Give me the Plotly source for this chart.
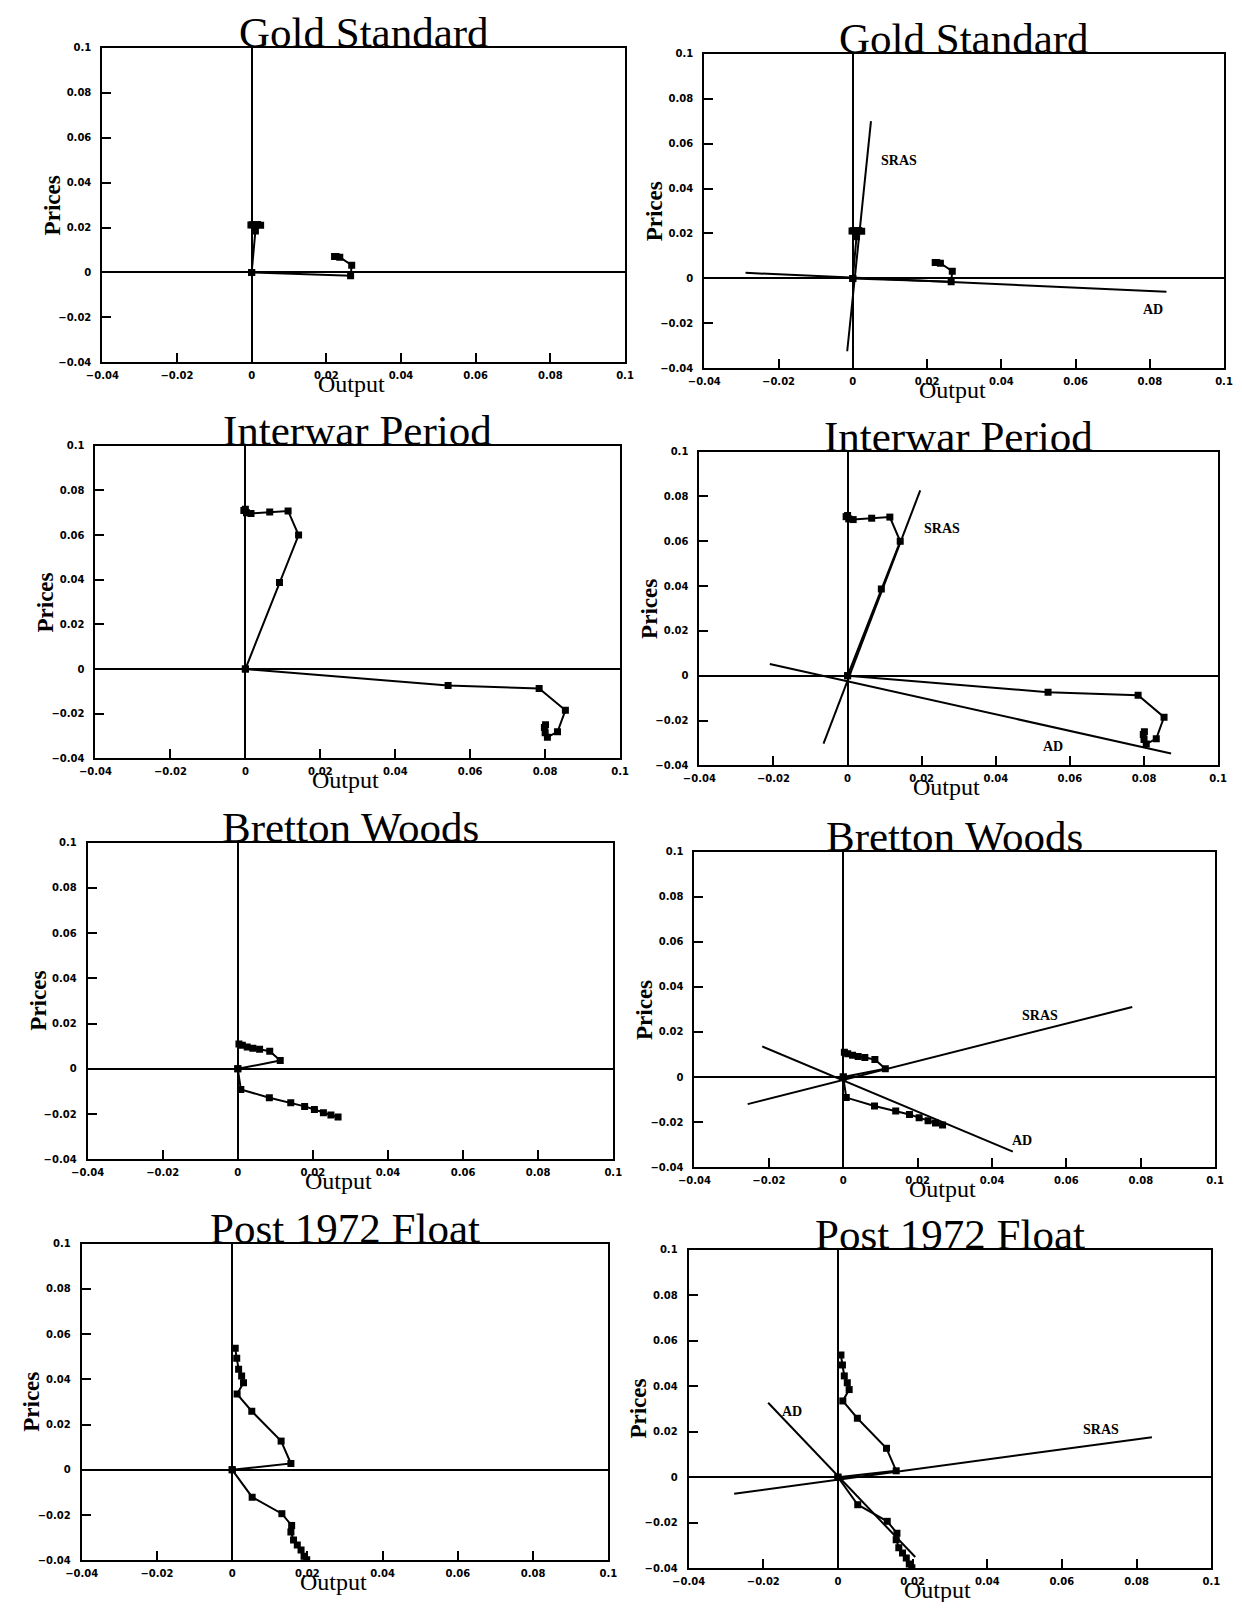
import plotly.graph_objects as go

# ---------------- data ----------------
tick_vals = [-0.04, -0.02, 0, 0.02, 0.04, 0.06, 0.08, 0.1]
tick_text = ["\u22120.04", "\u22120.02", "0", "0.02", "0.04", "0.06", "0.08", "0.1"]

panel_titles = ["Gold Standard", "Gold Standard",
                "Interwar Period", "Interwar Period",
                "Bretton Woods", "Bretton Woods",
                "Post 1972 Float", "Post 1972 Float"]

# Gold Standard
gold_demand_x = [0, 0.0010, 0.0024, 0.0016, 0.0008, 0.0002, -0.0002]
gold_demand_y = [0, 0.0185, 0.0210, 0.0213, 0.0213, 0.0212, 0.0211]
gold_supply_x = [0, 0.0265, 0.0268, 0.0236, 0.0226, 0.0222]
gold_supply_y = [0, -0.0015, 0.0032, 0.0068, 0.0071, 0.0071]
gold_sras_x = [-0.0015, 0.0049]
gold_sras_y = [-0.0324, 0.0700]
gold_ad_x = [-0.0289, 0.0845]
gold_ad_y = [0.0025, -0.0059]

# Interwar Period
interwar_demand_x = [0, 0.0091, 0.0142, 0.0114, 0.0065, 0.0015, 0.0003, -0.0004, 0.0]
interwar_demand_y = [0, 0.0387, 0.0600, 0.0708, 0.0703, 0.0697, 0.0700, 0.0710, 0.0715]
interwar_supply_x = [0, 0.0541, 0.0784, 0.0854, 0.0833, 0.0806, 0.0800, 0.0798, 0.0801]
interwar_supply_y = [0, -0.0074, -0.0087, -0.0185, -0.0281, -0.0305, -0.0285, -0.0262, -0.0250]
interwar_sras_x = [-0.0065, 0.0196]
interwar_sras_y = [-0.0303, 0.0827]
interwar_ad_x = [-0.0210, 0.0873]
interwar_ad_y = [0.0052, -0.0347]

# Bretton Woods
bretton_demand_x = [0, 0.0113, 0.0085, 0.0058, 0.0040, 0.0025, 0.0012, 0.0003]
bretton_demand_y = [0, 0.0037, 0.0078, 0.0087, 0.0091, 0.0097, 0.0104, 0.0110]
bretton_supply_x = [0, 0.0008, 0.0084, 0.0141, 0.0178, 0.0204, 0.0228, 0.0248, 0.0267]
bretton_supply_y = [0, -0.0091, -0.0128, -0.0150, -0.0166, -0.0180, -0.0194, -0.0204, -0.0213]
bretton_sras_x = [-0.0257, 0.0777]
bretton_sras_y = [-0.0120, 0.0311]
bretton_ad_x = [-0.0218, 0.0456]
bretton_ad_y = [0.0136, -0.0331]

# Post 1972 Float
float_demand_x = [0, 0.0156, 0.0130, 0.0052, 0.0013, 0.0030, 0.0025, 0.0017, 0.0012, 0.0008]
float_demand_y = [0, 0.0028, 0.0127, 0.0259, 0.0335, 0.0385, 0.0415, 0.0445, 0.0493, 0.0537]
float_supply_x = [0, 0.0053, 0.0132, 0.0158, 0.0156, 0.0163, 0.0173, 0.0183, 0.0191, 0.0198]
float_supply_y = [0, -0.0121, -0.0194, -0.0246, -0.0275, -0.0310, -0.0333, -0.0355, -0.0382, -0.0398]
float_sras_x = [-0.0278, 0.0841]
float_sras_y = [-0.0073, 0.0176]
float_ad_x = [-0.0187, 0.0207]
float_ad_y = [0.0327, -0.0351]

# ---------------- layout geometry ----------------
PAGE_MARGIN = 8          # default browser body margin
W, H = 1242 - 2 * PAGE_MARGIN, 1610 - 2 * PAGE_MARGIN
boxes = [  # left, right, top, bottom  (page pixels)
    (87, 621, 42, 359), (702, 1233, 48, 365),
    (80, 616, 443, 758), (697, 1227, 449, 765),
    (72, 609, 843, 1162), (692, 1224, 852, 1170),
    (66, 604, 1247, 1566), (686, 1220, 1253, 1574),
]

series = [
    (gold_demand_x, gold_demand_y, gold_supply_x, gold_supply_y, None),
    (gold_demand_x, gold_demand_y, gold_supply_x, gold_supply_y,
     (gold_sras_x, gold_sras_y, gold_ad_x, gold_ad_y)),
    (interwar_demand_x, interwar_demand_y, interwar_supply_x, interwar_supply_y, None),
    (interwar_demand_x, interwar_demand_y, interwar_supply_x, interwar_supply_y,
     (interwar_sras_x, interwar_sras_y, interwar_ad_x, interwar_ad_y)),
    (bretton_demand_x, bretton_demand_y, bretton_supply_x, bretton_supply_y, None),
    (bretton_demand_x, bretton_demand_y, bretton_supply_x, bretton_supply_y,
     (bretton_sras_x, bretton_sras_y, bretton_ad_x, bretton_ad_y)),
    (float_demand_x, float_demand_y, float_supply_x, float_supply_y, None),
    (float_demand_x, float_demand_y, float_supply_x, float_supply_y,
     (float_sras_x, float_sras_y, float_ad_x, float_ad_y)),
]

curve_labels = {
    1: [("SRAS", 0.0125, 0.0525), ("AD", 0.0810, -0.0140)],
    3: [("SRAS", 0.0255, 0.0657), ("AD", 0.0555, -0.0318)],
    5: [("SRAS", 0.0528, 0.0274), ("AD", 0.0480, -0.0282)],
    7: [("SRAS", 0.0705, 0.0208), ("AD", -0.0124, 0.0287)],
}

fig = go.Figure()
layout = dict(
    width=W, height=H,
    margin=dict(l=0, r=0, t=0, b=0),
    paper_bgcolor="white", plot_bgcolor="white",
    showlegend=False,
    annotations=[],
)

axis_font = dict(family="DejaVu Sans", size=10, color="black", weight="bold")
line_style = dict(color="black", width=2)
marker_style = dict(symbol="square", size=7, color="black")

for i, (box, ser) in enumerate(zip(boxes, series)):
    n = i + 1
    xa = "xaxis" if n == 1 else f"xaxis{n}"
    ya = "yaxis" if n == 1 else f"yaxis{n}"
    xr = "x" if n == 1 else f"x{n}"
    yr = "y" if n == 1 else f"y{n}"
    l, r, t, b = [v - PAGE_MARGIN for v in box]
    common = dict(
        tickvals=tick_vals, ticktext=tick_text,
        ticks="inside", ticklen=9, tickwidth=2, tickcolor="black",
        showline=True, linewidth=2, linecolor="black", mirror=True,
        showgrid=False, zeroline=True, zerolinecolor="black", zerolinewidth=2,
        tickfont=axis_font, range=[-0.04, 0.1],
        fixedrange=True,
    )
    layout[xa] = dict(common, domain=[l / W, r / W], anchor=yr, ticklabelstandoff=3)
    layout[ya] = dict(common, domain=[1 - b / H, 1 - t / H], anchor=xr, ticklabelstandoff=7)

    dx, dy, sx, sy, curves = ser
    if curves is not None:
        cx, cy, ax_, ay = curves
        fig.add_trace(go.Scatter(x=cx, y=cy, mode="lines", line=line_style,
                                 xaxis=xr, yaxis=yr, hoverinfo="skip"))
        fig.add_trace(go.Scatter(x=ax_, y=ay, mode="lines", line=line_style,
                                 xaxis=xr, yaxis=yr, hoverinfo="skip"))
    fig.add_trace(go.Scatter(x=dx, y=dy, mode="lines+markers", line=line_style,
                             marker=marker_style, xaxis=xr, yaxis=yr))
    fig.add_trace(go.Scatter(x=sx, y=sy, mode="lines+markers", line=line_style,
                             marker=marker_style, xaxis=xr, yaxis=yr))

    layout["annotations"].append(dict(
        text=panel_titles[i], xref=f"{xr} domain", yref=f"{yr} domain",
        x=0.5, y=1, xanchor="center", yanchor="bottom", xshift=0, yshift=-10,
        showarrow=False,
        font=dict(family="Liberation Serif", size=43, color="black")))
    layout["annotations"].append(dict(
        text="Output", xref=f"{xr} domain", yref=f"{yr} domain",
        x=0.5, y=0, xanchor="center", yanchor="middle", xshift=-12, yshift=-22,
        showarrow=False,
        font=dict(family="Liberation Serif", size=24, color="black")))
    layout["annotations"].append(dict(
        text="Prices", xref=f"{xr} domain", yref=f"{yr} domain",
        x=0, y=0.5, xanchor="center", yanchor="middle", xshift=-50,
        textangle=-90, showarrow=False,
        font=dict(family="Liberation Serif", size=23, color="black", weight="bold")))
    for txt, lx, ly in curve_labels.get(i, []):
        layout["annotations"].append(dict(
            text=txt, xref=xr, yref=yr, x=lx, y=ly, xanchor="center", yanchor="middle",
            showarrow=False,
            font=dict(family="Liberation Serif", size=14, color="black", weight="bold")))

fig.update_layout(**layout)
fig.write_html("out.html")
